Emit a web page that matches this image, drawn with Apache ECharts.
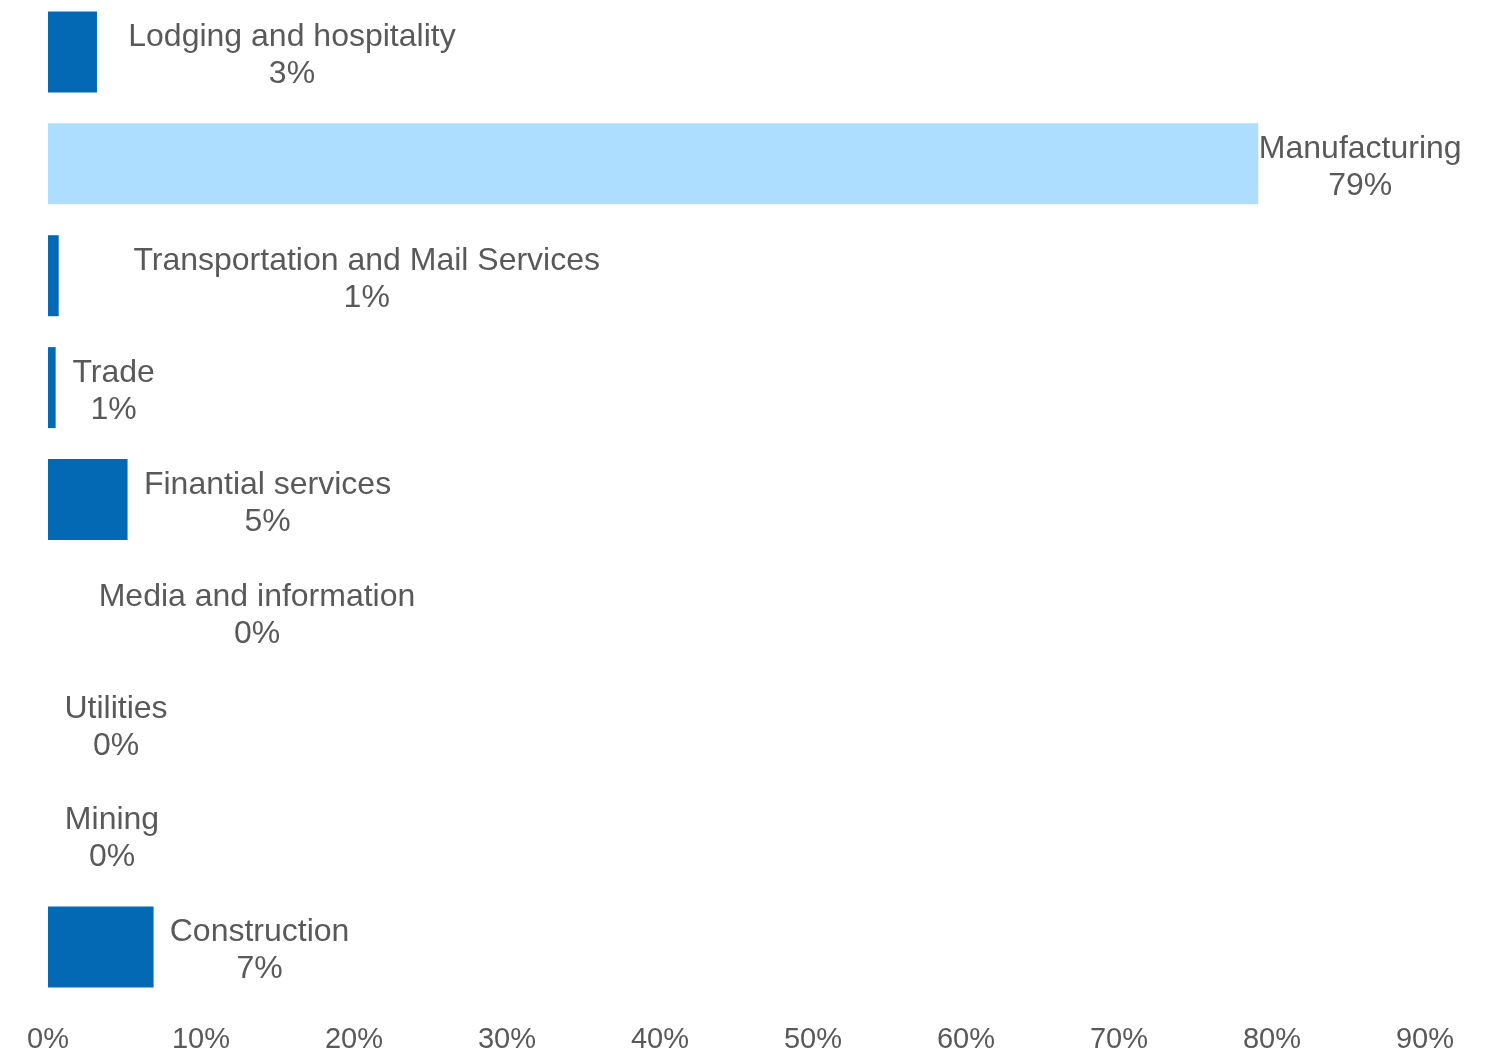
<!DOCTYPE html>
<html>
<head>
<meta charset="utf-8">
<title>Share by sector</title>
<script src="https://cdn.jsdelivr.net/npm/echarts@6/dist/echarts.min.js"></script>
<style>
  html, body { margin: 0; padding: 0; background: #ffffff; }
  #chart { width: 1503px; height: 1055px; }
</style>
</head>
<body>
<div id="chart"></div>
<script>
// Sectors, listed top to bottom
const sectors = [
  'Lodging and hospitality',
  'Manufacturing',
  'Transportation and Mail Services',
  'Trade',
  'Finantial services',
  'Media and information',
  'Utilities',
  'Mining',
  'Construction'
];

// Share of each sector, in percent
const shares = [3.2, 79.1, 0.7, 0.5, 5.2, 0, 0, 0, 6.9];

// Value axis tick values, in percent
const tickValues = [0, 10, 20, 30, 40, 50, 60, 70, 80, 90];

// Highlighted sector
const highlight = 'Manufacturing';

// Horizontal distance (px) from each bar end to the centre of its label
const labelDistance = [195, 102, 308, 58, 140, 209, 68, 64, 106];

const DARK = '#0469B4';
const LIGHT = '#ADDEFF';
const TEXT = '#595959';

const seriesData = sectors.map((name, i) => ({
  value: shares[i],
  itemStyle: { color: name === highlight ? LIGHT : DARK },
  label: { distance: labelDistance[i] }
}));

const chart = echarts.init(document.getElementById('chart'), null, { renderer: 'canvas' });

chart.setOption({
  animation: false,
  backgroundColor: '#ffffff',
  grid: {
    left: 48, width: 1377, top: -4, bottom: 52,
    containLabel: false,
    outerBoundsMode: 'none'
  },
  xAxis: {
    type: 'value',
    min: tickValues[0],
    max: tickValues[tickValues.length - 1],
    interval: tickValues[1] - tickValues[0],
    axisLine: { show: false },
    axisTick: { show: false },
    splitLine: { show: false },
    axisLabel: {
      formatter: v => v + '%',
      color: TEXT,
      fontFamily: 'Liberation Sans, Arial, sans-serif',
      fontSize: 29,
      margin: 22
    }
  },
  yAxis: {
    type: 'category',
    inverse: true,
    data: sectors,
    axisLine: { show: false },
    axisTick: { show: false },
    axisLabel: { show: false },
    splitLine: { show: false }
  },
  series: [{
    type: 'bar',
    data: seriesData,
    barWidth: 81,
    label: {
      show: true,
      position: 'right',
      align: 'center',
      verticalAlign: 'middle',
      offset: [0, 4],
      color: TEXT,
      fontFamily: 'Liberation Sans, Arial, sans-serif',
      fontSize: 32,
      lineHeight: 37,
      formatter: p => p.name + '\n' + Math.round(p.value) + '%'
    }
  }]
});
</script>
</body>
</html>
